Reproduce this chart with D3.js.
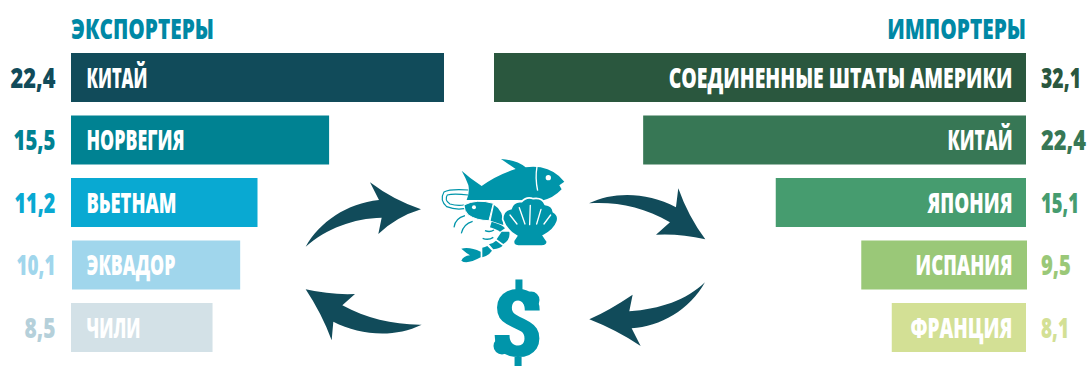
<!DOCTYPE html>
<html>
<head>
<meta charset="utf-8">
<script src="https://cdn.jsdelivr.net/npm/d3@7/dist/d3.min.js"></script>
<style>
  html, body { margin: 0; padding: 0; background: #fff; overflow: hidden; }
  text { font-family: "Open Sans", "Liberation Sans", sans-serif; font-weight: 800; }
</style>
</head>
<body>
<svg id="chart" width="1088" height="367"></svg>
<script>
const exporters = ['КИТАЙ', 'НОРВЕГИЯ', 'ВЬЕТНАМ', 'ЭКВАДОР', 'ЧИЛИ'];
const exportValues = [22.4, 15.5, 11.2, 10.1, 8.5];

const importers = ['СОЕДИНЕННЫЕ ШТАТЫ АМЕРИКИ', 'КИТАЙ', 'ЯПОНИЯ', 'ИСПАНИЯ', 'ФРАНЦИЯ'];
const importValues = [32.1, 22.4, 15.1, 9.5, 8.1];
// bar lengths as drawn: the source draws two of them longer than their printed value
const importLengths = [32.1, 23.1, 15.1, 10.0, 8.1];

const exportColors = ['#114b5a', '#008292', '#09a9d2', '#a0d6ec', '#d3e1e7'];
const exportValueColors = ['#114b5a', '#008292', '#09a9d2', '#a0d6ec', '#b5d0da'];
const importColors = ['#2a573e', '#377755', '#469c6f', '#9ac878', '#d3e095'];

// No condensed face is installed, so each string gets squeezed to its width in the source
const exportNameW = [61, 98, 90, 89, 54];
const exportValW = [45, 42, 41, 39, 31];
const importNameW = [344, 65, 85, 97, 102];
const importValW = [40, 45, 38, 30, 28];

const svg = d3.select('#chart');
const fmt = v => d3.format('.1f')(v).replace('.', ',');

const rows = d3.scaleBand().domain(d3.range(5)).range([53, 352]).paddingInner(0.216).paddingOuter(0);
const xLeft = d3.scaleLinear().domain([0, 22.4]).range([71, 444]);
const xRight = d3.scaleLinear().domain([0, 32.1]).range([1026, 494]);
const baseline = i => rows(i) + rows.bandwidth() / 2 + 10;

// x is the start of the text, or its end when the anchor is 'end'
function squeeze(sel, xFn, yFn, widths) {
    sel.attr('font-size', 28.5).attr('transform', function (d, i) {
        const natural = this.getComputedTextLength();
        return `translate(${xFn(d, i)},${yFn(d, i)}) scale(${widths[i] / natural},1)`;
    });
}

// Headers
squeeze(svg.selectAll('.head').data(['ЭКСПОРТЕРЫ', 'ИМПОРТЕРЫ']).join('text').attr('class', 'head')
    .attr('text-anchor', (d, i) => i ? 'end' : 'start')
    .attr('fill', '#0088a5').text(d => d),
    (d, i) => i ? 1026 : 71, () => 39, [143, 139]);

// Exporters
const left = svg.append('g');
left.selectAll('rect').data(exportValues).join('rect')
    .attr('x', (d, i) => xLeft(0) + (i === 3 ? 1 : 0)).attr('y', (d, i) => rows(i))
    .attr('width', d => xLeft(d) - xLeft(0)).attr('height', rows.bandwidth())
    .attr('fill', (d, i) => exportColors[i]);
squeeze(left.selectAll('.name').data(exporters).join('text').attr('class', 'name')
    .attr('fill', '#fff').text(d => d),
    () => 86.5, (d, i) => baseline(i), exportNameW);
squeeze(left.selectAll('.val').data(exportValues).join('text').attr('class', 'val')
    .attr('text-anchor', 'end')
    .attr('fill', (d, i) => exportValueColors[i]).text(fmt),
    () => 55.5, (d, i) => baseline(i), exportValW);

// Importers
const right = svg.append('g');
right.selectAll('rect').data(importLengths).join('rect')
    .attr('x', (d, i) => xRight(d) + (i === 3 ? 1 : 0)).attr('y', (d, i) => rows(i))
    .attr('width', d => xRight(0) - xRight(d)).attr('height', rows.bandwidth())
    .attr('fill', (d, i) => importColors[i]);
squeeze(right.selectAll('.name').data(importers).join('text').attr('class', 'name')
    .attr('text-anchor', 'end').attr('fill', '#fff').text(d => d),
    () => 1012.5, (d, i) => baseline(i), importNameW);
squeeze(right.selectAll('.val').data(importValues).join('text').attr('class', 'val')
    .attr('fill', (d, i) => importColors[i]).text(fmt),
    () => 1041, (d, i) => baseline(i), importValW);

// Arrows and icons, traced at 3x around (290,150)
const art = svg.append('g').attr('transform', 'translate(290,150) scale(0.3333)');

const arrowPaths = [
    'M47,290 C90,215 170,160 267,150 L240,97 Q310,150 393,178 Q320,200 265,252 L275,203 C190,205 110,235 47,290Z',
    'M897,160 C970,125 1070,125 1158,172 L1165,115 Q1195,200 1246,268 Q1170,250 1098,254 L1140,217 C1060,170 980,155 897,160Z',
    'M1245,397 C1190,450 1110,478 1018,484 L1028,434 Q960,480 898,508 Q980,540 1052,588 L1025,535 C1110,530 1200,480 1245,397Z',
    'M395,524 C310,525 230,505 157,466 L195,432 Q120,435 47,418 Q95,490 125,571 L130,515 C210,555 310,565 395,524Z'
];
art.selectAll('.arrow').data(arrowPaths).join('path').attr('class', 'arrow')
    .attr('d', d => d).attr('fill', '#114b5a');

const iconColor = '#0095aa';
// fish
art.append('path').attr('fill', iconColor)
    .attr('d', 'M515,62 Q540,85 575,108 Q620,75 677,57 Q655,42 633,27 Q680,30 707,52 Q730,48 752,52 Q795,60 823,95 L808,106 L815,118 Q790,145 755,152 L680,150 L610,150 L530,150 Q540,125 535,105 Q528,85 515,62Z');
art.append('path').attr('fill', 'none').attr('stroke', '#fff').attr('stroke-width', 4)
    .attr('d', 'M741,50 Q735,85 743,122');
art.append('circle').attr('cx', 775).attr('cy', 83).attr('r', 8).attr('fill', '#fff');
// shrimp antennae and legs
art.append('path').attr('fill', 'none').attr('stroke', iconColor).attr('stroke-width', 3.5)
    .attr('d', 'M535,120 Q480,116 462,126 Q448,150 470,170 Q495,180 522,176 M535,135 Q490,130 472,135 Q462,150 480,162 Q500,168 522,165 M525,197 Q495,205 492,232 M548,214 Q520,222 514,250');
// shrimp body
art.append('path').attr('fill', iconColor).attr('stroke', '#fff').attr('stroke-width', 3)
    .attr('d', 'M522,165 Q560,145 610,160 L597,212 Q560,212 535,195 Q522,182 522,165Z');
art.append('path').attr('fill', iconColor)
    .attr('d', 'M612,165 Q640,180 640,225 L602,212Z M645,235 Q640,225 605,215 L600,232 Q625,240 630,245Z M658,245 L635,245 L620,268 L640,282 Q662,270 658,245Z M638,287 L618,272 Q610,280 597,283 L610,298 Q630,295 638,287Z M606,302 L592,288 Q585,292 577,293 L577,322 Q595,318 606,302Z M572,305 Q540,290 514,296 Q530,310 540,316 Q520,318 514,332 Q530,345 572,322Z');
art.append('path').attr('fill', 'none').attr('stroke', iconColor).attr('stroke-width', 4)
    .attr('d', 'M585,242 Q600,248 612,240 M578,265 Q595,272 610,262');
art.append('circle').attr('cx', 552).attr('cy', 172).attr('r', 6).attr('fill', '#fff');
// shell, white halo keeps it apart from the fish and the shrimp
art.append('path').attr('fill', iconColor).attr('stroke', '#fff').attr('stroke-width', 5)
    .attr('d', 'M638,208 Q638,180 663,176 Q670,152 695,155 Q710,138 730,146 Q757,142 765,163 Q788,165 790,185 Q808,195 802,215 Q792,242 760,257 L772,275 Q772,287 755,288 L685,288 Q668,287 671,272 L680,258 Q648,240 638,208Z');
art.append('g').attr('stroke', '#fff').attr('stroke-width', 4).attr('fill', 'none').attr('stroke-linecap', 'round')
    .selectAll('path')
    .data(['M660,195 L681,222', 'M688,173 L705,222', 'M721,166 L719,224', 'M753,178 L740,222', 'M782,195 L762,222'])
    .join('path').attr('d', d => d);
// dollar sign, with the ball ends of the source's serif
const dollar = svg.append('g').attr('fill', iconColor);
dollar.append('text').attr('text-anchor', 'middle')
    .attr('font-size', 92).style('font-family', 'Roboto, sans-serif').style('font-weight', 900)
    .attr('transform', 'translate(517,356) scale(0.98,1)').text('$');
dollar.append('circle').attr('cx', 531).attr('cy', 300).attr('r', 8.5);
dollar.append('circle').attr('cx', 502).attr('cy', 346).attr('r', 8.5);
</script>
</body>
</html>
